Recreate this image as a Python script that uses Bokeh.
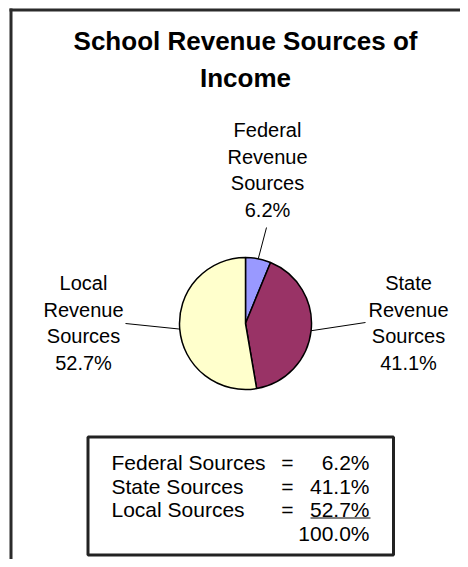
import numpy as np
from bokeh.plotting import figure
from bokeh.models import Range1d, ColumnDataSource
from bokeh.core.properties import value
from bokeh.embed import file_html
from bokeh.resources import INLINE

# ---- data ----
title_lines = ["School Revenue Sources of", "Income"]
slice_names = ["Federal\nRevenue\nSources", "State\nRevenue\nSources", "Local\nRevenue\nSources"]
table_names = ["Federal Sources", "State Sources", "Local Sources"]
percents = [6.2, 41.1, 52.7]
colors = ["#9999FF", "#993366", "#FFFFCC"]

W, H = 460, 559
FONT = value("Liberation Sans")

p = figure(width=W, height=H, output_backend="svg", toolbar_location=None,
           x_range=Range1d(0, W), y_range=Range1d(0, H), min_border=0)
p.axis.visible = False
p.grid.visible = False
p.outline_line_color = None
p.background_fill_color = "white"
p.border_fill_color = "white"

def Y(t):
    return H - t

# outer frame (only top and left visible in the reference)
p.segment(x0=[9, 10.5], y0=[Y(9.5), Y(8)], x1=[W, 10.5], y1=[Y(9.5), Y(H)],
          line_color="#2b2b2b", line_width=3)

# title
p.text(x=[245, 245], y=[Y(40), Y(77)], text=title_lines, text_font=FONT,
       text_font_size="26px", text_font_style="bold", text_align="center",
       text_baseline="middle", text_color="black")

# pie
cx, cy, r = 245, Y(323), 66
vals = np.array(percents)
frac = vals / vals.sum()
cum = np.concatenate([[0], np.cumsum(frac)])
start = 90 - cum[:-1] * 360
end = 90 - cum[1:] * 360
mid = np.deg2rad((start + end) / 2)
src = ColumnDataSource(dict(start=start, end=end, color=colors))
p.wedge(x=cx, y=cy, radius=r, start_angle="start", end_angle="end",
        start_angle_units="deg", end_angle_units="deg", direction="clock",
        fill_color="color", line_color="black", line_width=1.5, source=src)

# labels and leader lines
label_pos = [(267, 169.5), (408, 322.5), (83, 322.5)]
leader_end = [(266, 227), (365, 322), (125, 323)]
lx0 = cx + r * np.cos(mid)
ly0 = cy + r * np.sin(mid)
p.segment(x0=lx0, y0=ly0, x1=[e[0] for e in leader_end],
          y1=[Y(e[1]) for e in leader_end], line_color="black", line_width=1)
label_text = [f"{n}\n{v:.1f}%" for n, v in zip(slice_names, percents)]
p.text(x=[q[0] for q in label_pos], y=[Y(q[1]) for q in label_pos], text=label_text,
       text_font=FONT, text_font_size="20px", text_align="center",
       text_baseline="middle", text_line_height=1.2, text_color="black")

# summary box
p.quad(left=[87.5], right=[393], top=[Y(436.5)], bottom=[Y(554.5)],
       fill_color="white", line_color="#222222", line_width=3)
rows_y = [462, 485.5, 508.5, 532.5]
p.text(x=[111] * 3, y=[Y(t) for t in rows_y[:3]], text=table_names, text_font=FONT,
       text_font_size="21px", text_align="left", text_baseline="middle", text_color="black")
p.text(x=[287] * 3, y=[Y(t) for t in rows_y[:3]], text=["="] * 3, text_font=FONT,
       text_font_size="21px", text_align="center", text_baseline="middle", text_color="black")
vals_text = [f"{v:.1f}%" for v in percents] + [f"{vals.sum():.1f}%"]
p.text(x=[369] * 4, y=[Y(t) for t in rows_y], text=vals_text, text_font=FONT,
       text_font_size="21px", text_align="right", text_baseline="middle", text_color="black")
p.segment(x0=[310], y0=[Y(517.5)], x1=[370], y1=[Y(517.5)], line_color="black", line_width=1.2)

open("out.html", "w").write(file_html(p, INLINE))
